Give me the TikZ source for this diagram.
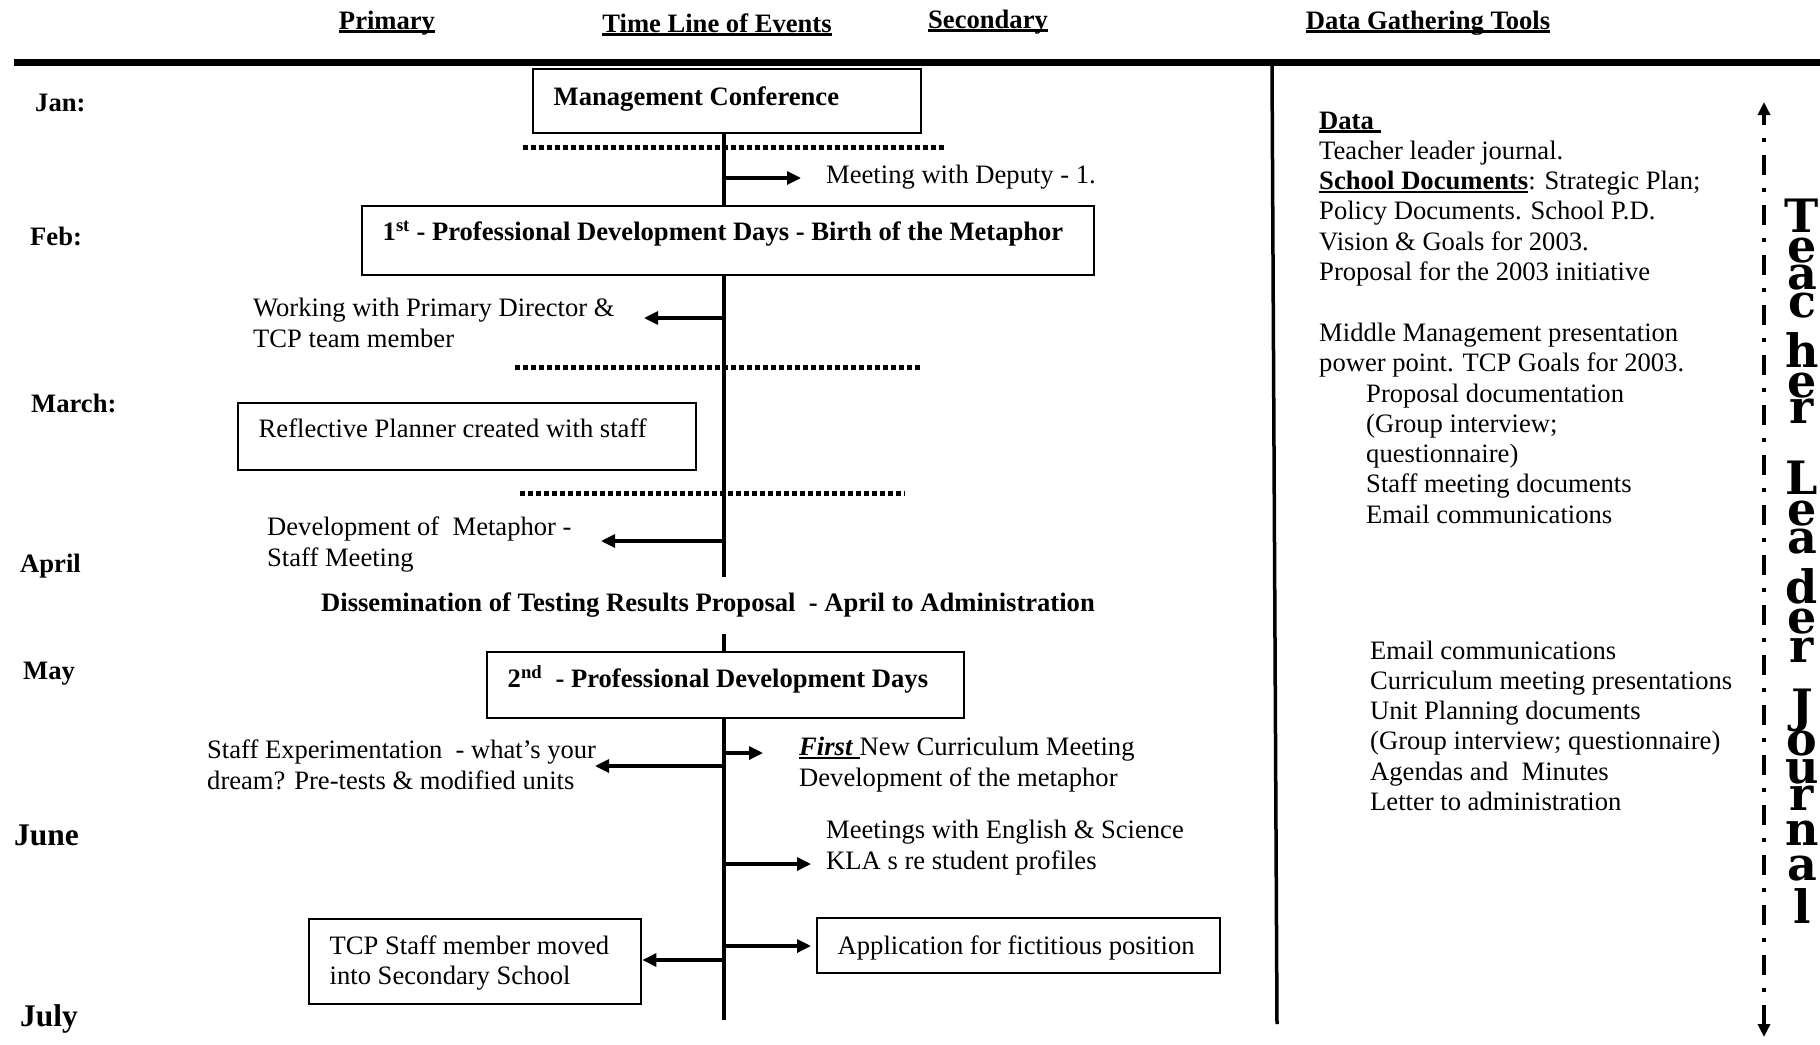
\documentclass[tikz,border=0pt]{standalone}
\usepackage{fontspec}
\setmainfont{Liberation Serif}
\newfontfamily\journalfont{DejaVu Serif}
\usetikzlibrary{arrows.meta}

% underline set at a fixed depth below the baseline, crossing descenders
\newcommand\wordul[1]{\setbox0=\hbox{#1}\rlap{\rule[-3.6pt]{\wd0}{2.2pt}}\box0}

\begin{document}
\begin{tikzpicture}[x=1pt,y=-1pt,
  every node/.style={execute at begin node={\spaceskip=0pt\xspaceskip=0pt\relax}},
  body/.style={font=\fontsize{26.6}{30.3}\selectfont},
  bodybf/.style={font=\fontsize{26.6}{30.3}\selectfont\bfseries},
  txt/.style={body, inner sep=0pt, anchor=base west, align=left},
  txtbf/.style={bodybf, inner sep=0pt, anchor=base west, align=left},
  head/.style={bodybf, inner sep=0pt, anchor=base},
  month/.style={txtbf},
  bigmonth/.style={inner sep=0pt, anchor=base west, font=\fontsize{31.5}{36}\selectfont\bfseries},
  eventbox/.style={draw, line width=2.4pt, anchor=north west, inner xsep=20.5pt, inner ysep=10pt, align=left},
  tline/.style={line width=4pt},
  arr/.style={line width=3.2pt, -{Triangle[length=14pt,width=13pt]}},
  dots/.style={line width=5pt, dash pattern=on 4.5pt off 3.5pt},
  jletter/.style={inner sep=0pt, anchor=base, text height=22pt, text depth=0pt,
                  font=\journalfont\bfseries\fontsize{46}{50}\selectfont},
  jarrow/.style={line width=4pt, dash pattern=on 20pt off 13pt on 4pt off 13pt,
                 {Triangle[length=13pt,width=12pt]}-{Triangle[length=13pt,width=12pt]}}
]
\useasboundingbox (0,0) rectangle (1820,1044);

% column headings
\node[head] (hprim) at (387,29) {\wordul{Primary}};
\node[head] (htime) at (717,32) {\wordul{Time Line of Events}};
\node[head] (hsec)  at (988,28) {\wordul{Secondary}};
\node[head] (htool) at (1428,29) {\wordul{Data Gathering Tools}};

% heading rule and column divider
\coordinate (barL) at (14,62);
\coordinate (barR) at (1820,62);
\draw[line width=7pt] (barL) -- (barR);
\coordinate (divT) at (1272,66);
\coordinate (divB) at (1277,1024);
\draw[line width=3.5pt] (divT) -- (divB);

% months
\node[month] (jan) at (35,111) {Jan:};
\node[month] (feb) at (30,245) {Feb:};
\node[month] (mar) at (31,412) {March:};
\node[month] (apr) at (20,572) {April};
\node[month] (may) at (23,679) {May};
\node[bigmonth] (jun) at (14,845) {June};
\node[bigmonth] (jul) at (20,1026) {July};

% event boxes
\node[eventbox, bodybf, text width=347pt, text height=26pt, text depth=18pt] (mc) at (532,68)
  {\mbox{Management Conference}};
\node[eventbox, bodybf, text width=691pt, text height=24pt, text depth=25pt] (pd1) at (361,205)
  {\mbox{1\textsuperscript{st} - Professional Development Days - Birth of the Metaphor}};
\node[eventbox, body, text width=417pt, text height=24pt, text depth=23pt] (rp) at (237,402)
  {\mbox{Reflective Planner created with staff}};
\node[eventbox, bodybf, text width=436pt, text height=25pt, text depth=21pt] (pd2) at (486,651)
  {\mbox{2\textsuperscript{nd}\ \ - Professional Development Days}};
\node[eventbox, body, text width=291pt, text height=25pt, text depth=40pt] (tcp) at (308,918)
  {\mbox{TCP Staff member moved}\\\mbox{into Secondary School}};
\node[eventbox, body, text width=362pt, text height=26pt, text depth=9pt] (app) at (816,917)
  {\mbox{Application for fictitious position}};

% free-standing event texts (multi-line ones sit on their last baseline)
\node[txt] (dep)  at (826,183) {Meeting with Deputy - 1.};
\node[txt] (wpd)  at (253,347) {Working with Primary Director \&\\TCP team member};
\node[txt] (dmet) at (267,566) {Development of\ \ Metaphor -\\Staff Meeting};
\node[head] (diss) at (708,611) {Dissemination of Testing Results Proposal\ \ - April to Administration};
\node[txt] (sexp) at (207,789) {Staff Experimentation\ \ - what’s your\\dream? Pre-tests \& modified units};
\node[txt] (fncm) at (799,786) {\wordul{\textbf{\textit{First}}\ }New Curriculum Meeting\\Development of the metaphor};
\node[txt] (meng) at (826,869) {Meetings with English \& Science\\KLA s re student profiles};

% time line
\coordinate (tlx) at (724,0);
\coordinate (tlA) at (724,577);
\coordinate (tlB) at (724,634);
\coordinate (tlC) at (724,1020);
\draw[tline] (mc.south -| tlx) -- (pd1.north -| tlx);
\draw[tline] (pd1.south -| tlx) -- (tlA);
\draw[tline] (tlB) -- (pd2.north -| tlx);
\draw[tline] (pd2.south -| tlx) -- (tlC);

% dotted month separators
\coordinate (d1a) at (523,147); \coordinate (d1b) at (946,147);
\coordinate (d2a) at (515,367); \coordinate (d2b) at (923,367);
\coordinate (d3a) at (520,493); \coordinate (d3b) at (905,493);
\draw[dots] (d1a) -- (d1b);
\draw[dots] (d2a) -- (d2b);
\draw[dots] (d3a) -- (d3b);

% branches off the time line
\coordinate (b1) at (724,178); \coordinate (e1) at (801,178);
\coordinate (b2) at (724,318); \coordinate (e2) at (644,318);
\coordinate (b3) at (724,541); \coordinate (e3) at (601,541);
\coordinate (b4) at (724,766); \coordinate (e4) at (595,766);
\coordinate (b5) at (724,753); \coordinate (e5) at (763,753);
\coordinate (b6) at (724,864); \coordinate (e6) at (811,864);
\coordinate (b7) at (724,960);
\coordinate (b8) at (724,946);
\draw[arr] (b1) -- (e1);
\draw[arr] (b2) -- (e2);
\draw[arr] (b3) -- (e3);
\draw[arr] (b4) -- (e4);
\draw[arr] (b5) -- (e5);
\draw[arr] (b6) -- (e6);
\draw[arr] (b7) -- (b7 -| tcp.east);
\draw[arr, shorten >=5pt] (b8) -- (b8 -| app.west);

% data gathering tools
\node[txt] (dg1) at (1319,280.5) {\wordul{\textbf{Data}\ }\\
  Teacher leader journal.\\
  \wordul{\textbf{School Documents}}: Strategic Plan;\\
  Policy Documents. School P.D.\\
  Vision \& Goals for 2003.\\
  Proposal for the 2003 initiative};
\node[txt] (dg2) at (1319,371.3) {Middle Management presentation\\power point. TCP Goals for 2003.};
\node[txt] (dg3) at (1366,523.2) {Proposal documentation\\(Group interview;\\questionnaire)\\Staff meeting documents\\Email communications};
\node[txt] (dg4) at (1370,810.5) {Email communications\\Curriculum meeting presentations\\Unit Planning documents\\(Group interview; questionnaire)\\Agendas and\ \ Minutes\\Letter to administration};

% teacher leader journal span
\coordinate (jtop) at (1764,102);
\coordinate (jbot) at (1764,1037);
\draw[jarrow] (jbot) -- (jtop);
\foreach \ch/\yb [count=\i] in {T/232,e/262,a/289,c/317,h/367,e/397,r/423,
    L/494,e/525,a/553,d/603,e/633,r/662,
    J/722,o/755,u/783,r/810,n/845,a/880,l/923}
  \node[jletter] (jl\i) at (1802,\yb) {\ch};
\end{tikzpicture}
\end{document}
